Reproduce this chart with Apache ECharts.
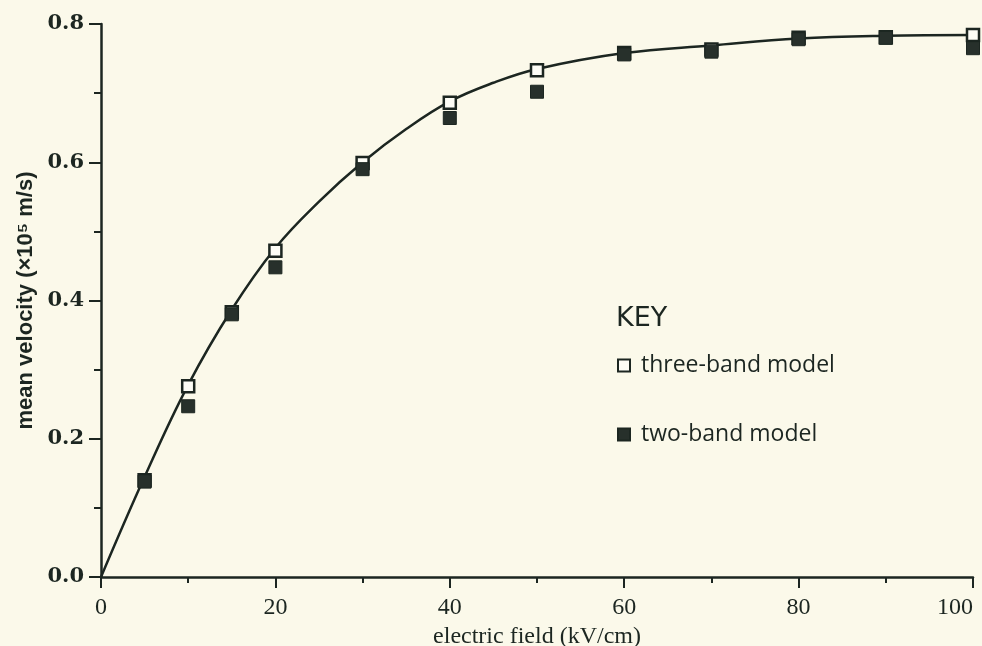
<!DOCTYPE html>
<html>
<head>
<meta charset="utf-8">
<script src="https://cdn.jsdelivr.net/npm/echarts@6/dist/echarts.min.js"></script>
<style>
html,body{margin:0;padding:0;background:#fbf9ea;}
#chart{width:982px;height:646px;}
</style>
</head>
<body>
<div id="chart"></div>
<script>
// Fitted curve (electric field kV/cm, mean velocity x10^5 m/s)
const curveX = [0, 5, 10, 15, 20, 25, 30, 35, 40, 45, 50, 60, 70, 80, 90, 100];
const curveY = [0, 0.145, 0.278, 0.387, 0.476, 0.543, 0.600, 0.648, 0.688, 0.715, 0.735, 0.758, 0.769, 0.779, 0.783, 0.784];

const fieldX = [5, 10, 15, 20, 30, 40, 50, 60, 70, 80, 90, 100];
const threeBand = [0.140, 0.276, 0.383, 0.472, 0.599, 0.686, 0.733, 0.758, 0.763, 0.780, 0.781, 0.784];
const twoBand   = [0.138, 0.247, 0.380, 0.448, 0.590, 0.664, 0.702, 0.756, 0.760, 0.778, 0.780, 0.765];

const xTicks = [0, 20, 40, 60, 80, 100];
const yTicks = [0.0, 0.2, 0.4, 0.6, 0.8];

const ink = '#1c2621';
const bg = '#fbf9ea';

const chart = echarts.init(document.getElementById('chart'));
chart.setOption({
  backgroundColor: bg,
  animation: false,
  title: {
    text: 'KEY',
    left: 616, top: 305, padding: 0,
    textStyle: {fontFamily: 'DejaVu Sans', fontSize: 27, fontWeight: 'normal', color: ink}
  },
  legend: {
    orient: 'vertical',
    left: 617, top: 354, padding: 0,
    itemWidth: 12, itemHeight: 12,
    itemGap: 46,
    data: ['three-band model', 'two-band model'],
    textStyle: {fontFamily: 'Open Sans', fontSize: 23, color: ink, padding: [0, 0, 0, 6]},
    selectedMode: false
  },
  grid: {left: 101, right: 9, top: 24, bottom: 69, containLabel: false, outerBoundsMode: 'none'},
  xAxis: {
    type: 'value', min: xTicks[0], max: xTicks[xTicks.length - 1], interval: 20,
    name: 'electric field (kV/cm)', nameLocation: 'middle', nameGap: 43,
    nameTextStyle: {fontFamily: 'Liberation Serif', fontSize: 24, color: ink},
    axisLine: {onZero: false, lineStyle: {color: ink, width: 2.5}},
    axisTick: {show: true, inside: false, length: 11, lineStyle: {color: ink, width: 2}},
    minorTick: {show: true, splitNumber: 2, length: 6, lineStyle: {color: ink, width: 2}},
    axisLabel: {margin: 19, fontFamily: 'Liberation Serif', fontSize: 24, color: ink, alignMaxLabel: 'right'},
    splitLine: {show: false}
  },
  yAxis: {
    type: 'value', min: yTicks[0], max: yTicks[yTicks.length - 1], interval: 0.2,
    name: 'mean velocity (×10⁵ m/s)', nameLocation: 'middle', nameGap: 63, nameRotate: 90,
    nameTextStyle: {fontFamily: 'Liberation Sans', fontWeight: 'bold', fontSize: 22, color: ink},
    axisLine: {lineStyle: {color: ink, width: 2.5}},
    axisTick: {show: true, inside: false, length: 12, lineStyle: {color: ink, width: 2}},
    minorTick: {show: true, splitNumber: 2, length: 7, lineStyle: {color: ink, width: 2}},
    axisLabel: {margin: 17, fontFamily: 'DejaVu Serif', fontWeight: 'bold', fontSize: 21, color: ink,
      formatter: v => v.toFixed(1)},
    splitLine: {show: false}
  },
  series: [
    {
      name: 'curve', type: 'line', smooth: 0.4, showSymbol: false, symbol: 'none',
      data: curveX.map((x, i) => [x, curveY[i]]),
      lineStyle: {color: ink, width: 2.5}, z: 2, silent: true
    },
    {
      name: 'three-band model', type: 'scatter', symbol: 'rect', symbolSize: 12,
      data: fieldX.map((x, i) => [x, threeBand[i]]),
      itemStyle: {color: '#fdfdf6', borderColor: ink, borderWidth: 2.5, opacity: 1}, z: 3
    },
    {
      name: 'two-band model', type: 'scatter', symbol: 'rect', symbolSize: 13,
      data: fieldX.map((x, i) => [x, twoBand[i]]),
      itemStyle: {color: '#27302b', borderColor: ink, borderWidth: 1, opacity: 1}, z: 4
    }
  ]
});
</script>
</body>
</html>
